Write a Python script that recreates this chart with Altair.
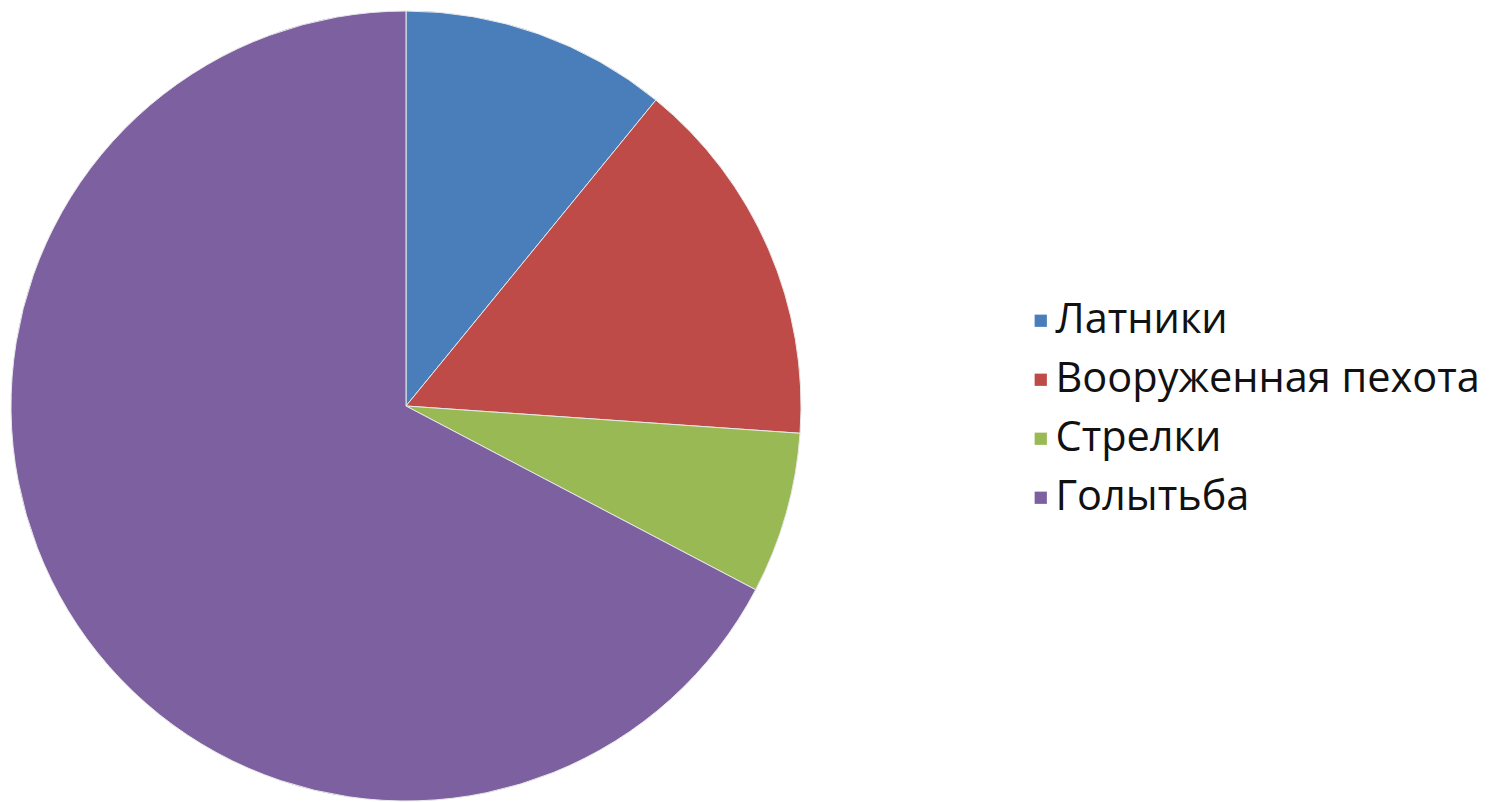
import altair as alt
import pandas as pd

categories = ["Латники", "Вооруженная пехота", "Стрелки", "Голытьба"]
values = [10.9, 15.2, 6.6, 67.3]
colors = ["#4A7EBB", "#BE4B48", "#98B954", "#7D60A0"]

df = pd.DataFrame({"cat": categories, "val": values, "idx": list(range(len(categories)))})

chart = alt.Chart(df).mark_arc(radius=395, stroke="#e8e8e8", strokeWidth=1).encode(
    theta=alt.Theta("val:Q", stack=True),
    order=alt.Order("idx:Q"),
    x=alt.value(398),
    y=alt.value(398),
    color=alt.Color(
        "cat:N",
        scale=alt.Scale(domain=categories, range=colors),
        legend=alt.Legend(
            title=None,
            orient="none",
            legendX=1012,
            legendY=292,
            symbolType="square",
            symbolSize=150,
            symbolStrokeWidth=0,
            labelFont="Open Sans",
            labelFontSize=41.5,
            labelColor="#111111",
            labelOffset={"expr": "-6"},
            rowPadding=16,
            labelLimit=0,
        ),
    ),
).properties(
    width=1480, height=794, padding=0, autosize=alt.AutoSizeParams(type="none")
).configure_view(stroke=None)

chart.save("out.html", embed_options={"renderer": "svg", "actions": False})
